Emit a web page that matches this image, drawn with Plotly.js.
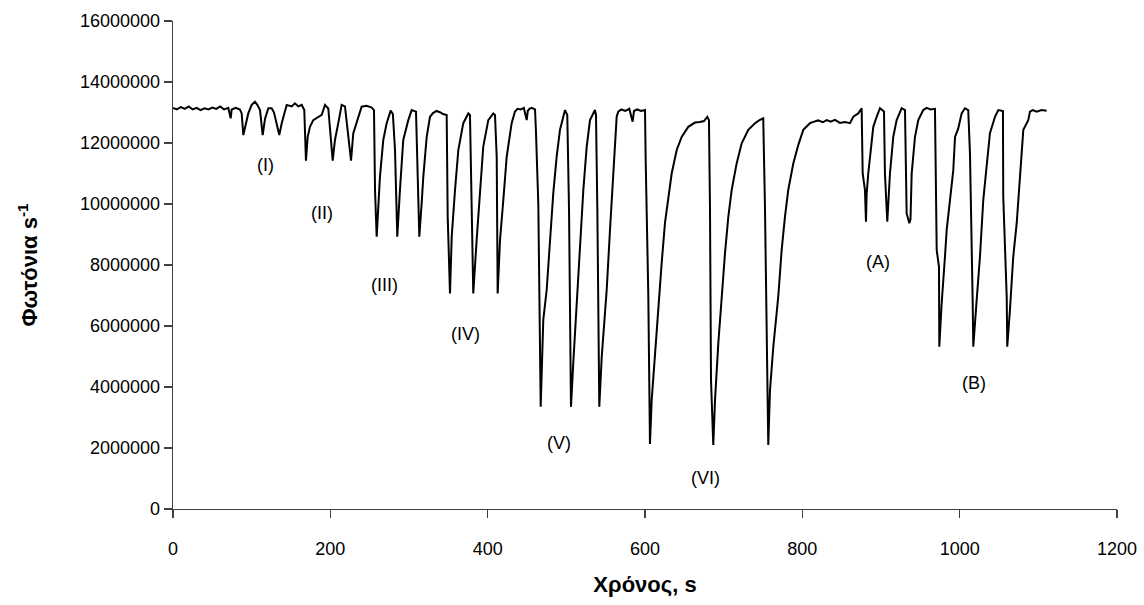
<!DOCTYPE html>
<html>
<head>
<meta charset="utf-8">
<script src="https://cdn.plot.ly/plotly-3.0.1.min.js"></script>
<style>html,body{margin:0;padding:0;background:#fff;}#chart{width:1144px;height:605px;}</style>
</head>
<body>
<div id="chart"></div>
<script>
const timeS = [0,5,10,15,20,25,30,35,40,45,50,55,60,65,70.3,73.3,74.6,80,85,87.3,89.4,92.8,95.7,100,104.2,107.2,110.6,114,117,121.2,125.4,128.4,135.1,138.2,142.4,144.5,150.9,155,159.3,163.6,166.9,169,171.2,174.1,178.3,189,193.2,197.4,203,205.9,210.1,214.4,218.6,222,226.3,229.2,235.6,239.8,246.2,252.6,255.5,256.8,258.9,261,263.1,267.3,271.6,276.7,279.5,282.2,285.1,288.5,292.7,299.1,303.4,308.9,310.6,313.1,316.1,318.2,322.5,326.7,330.5,335,340,343.2,347.9,349.2,352.1,354.3,358.5,362.7,369,375.4,377.5,379.7,381.7,386,390.2,394.4,400.8,407.1,409.3,411.5,412.7,415.7,419.9,424.2,430.5,434.7,438,442,446,449.6,451,453,456,460.2,461.4,464.4,467.4,468.7,470.7,475,479.2,483.4,487.7,491.9,498.3,501.2,503.4,505.9,508.8,513.2,517.4,521.6,525.9,530.1,536.4,537.7,539.4,541.9,545,551.3,555.5,559.7,564,566,570,575,580,584.3,586,590,595,600,600.9,604.2,606.3,608.5,612.7,616.9,621.2,625.4,629.6,633.9,640.3,646.6,655,663.5,669.9,675,679.2,681.3,682.6,683.9,686.8,689,693.2,697.5,701.7,705.9,710.2,716.5,722.9,731.3,739.8,745,750.3,752.5,754.7,756.7,758.9,763.1,769.4,773.7,777.9,782.1,788.5,794.8,801.2,809.7,815,820,826,831,836,841.5,847.8,854.2,860.6,864.8,871.1,875.4,876.7,879.6,880.9,881.8,883.8,888.1,890.2,894.5,898.7,903.8,905,908,911.4,915.6,919.9,926.3,930.5,932.6,936,937.5,939,943.2,947.4,953.7,958,963,968.6,970.8,973.7,974.1,977.1,981.3,983.5,987.7,991.9,994.1,998.2,1002.5,1006.7,1010.9,1013.1,1016.5,1017.3,1021.6,1025.8,1030,1034.3,1038.5,1044.9,1049.1,1055,1055.4,1059.8,1060.5,1063.9,1068.1,1072.5,1076.7,1078.8,1080.9,1087.2,1089.4,1093,1097.9,1104,1110.6];
const photons = [13150000,13100000,13180000,13120000,13200000,13100000,13150000,13080000,13140000,13100000,13160000,13120000,13200000,13100000,13150000,12810000,13100000,13150000,13100000,12970000,12260000,12650000,12970000,13250000,13350000,13250000,13080000,12260000,12800000,13140000,13140000,13000000,12260000,12650000,13080000,13250000,13200000,13300000,13200000,13250000,13080000,11420000,12200000,12530000,12750000,12920000,13250000,13130000,11420000,12100000,12650000,13250000,13200000,12430000,11420000,12320000,12860000,13190000,13220000,13160000,13080000,10460000,8930000,9910000,10900000,12100000,12650000,13060000,12950000,11770000,8930000,10460000,12100000,12750000,13080000,13030000,11550000,8930000,10030000,10900000,12200000,12860000,12980000,13050000,13000000,12950000,12920000,9580000,7070000,8930000,10460000,11770000,12650000,12970000,12920000,9150000,7070000,8820000,10460000,11880000,12750000,12970000,12920000,11550000,7070000,8820000,10130000,11550000,12650000,13030000,13120000,13100000,13150000,12750000,13050000,13120000,13150000,13100000,12370000,9970000,3350000,4670000,6200000,7180000,8930000,10350000,11550000,12430000,13080000,12920000,9860000,3350000,4780000,6740000,8600000,10460000,11880000,12750000,13080000,12920000,9860000,3350000,4990000,7180000,9150000,11000000,12860000,13030000,13100000,13050000,13120000,12700000,13050000,13100000,13050000,13080000,11390000,7020000,2130000,3570000,5110000,6750000,8070000,9380000,10240000,11000000,11770000,12200000,12530000,12670000,12690000,12720000,12860000,12750000,9910000,4230000,2100000,3570000,5440000,6960000,8390000,9580000,10460000,11330000,11990000,12430000,12650000,12740000,12810000,9910000,6100000,2100000,3900000,5320000,6960000,8490000,9580000,10460000,11330000,11930000,12430000,12650000,12700000,12740000,12680000,12750000,12700000,12760000,12660000,12690000,12650000,12860000,12970000,13140000,11000000,10460000,9420000,10350000,11000000,12200000,12530000,12860000,13140000,13030000,11000000,9420000,11000000,12200000,12750000,13140000,13080000,9690000,9370000,9500000,11000000,12200000,12750000,13080000,13150000,13100000,13120000,8490000,7940000,5320000,6740000,8270000,9150000,10130000,11110000,12200000,12480000,12970000,13140000,13080000,11660000,6850000,5320000,6850000,8270000,10130000,11330000,12320000,12860000,13080000,13050000,10240000,6960000,5320000,6520000,8270000,9370000,11000000,11880000,12430000,12750000,13030000,13080000,13030000,13080000,13060000];

const labelText = ['(I)','(II)','(III)','(IV)','(V)','(VI)','(A)','(B)'];
const labelX = [117,190,268.6,372,490.7,677.5,896.6,1018.6];
const labelY = [11280000,9690000,7340000,5740000,2150000,1020000,8110000,4140000];

const fontFam = '"Liberation Sans", Arial, sans-serif';

const trace = {
  x: timeS, y: photons, type: 'scatter', mode: 'lines',
  line: {color: '#000000', width: 2}, hoverinfo: 'skip', showlegend: false
};

const annotations = labelText.map((t, i) => ({
  x: labelX[i], y: labelY[i], xref: 'x', yref: 'y', text: t, showarrow: false,
  font: {family: fontFam, size: 18, color: '#000'}
}));

const layout = {
  width: 1144, height: 605,
  margin: {l: 173, r: 27, t: 21, b: 96},
  paper_bgcolor: '#fff', plot_bgcolor: '#fff',
  font: {family: fontFam, size: 18, color: '#000'},
  xaxis: {
    range: [0, 1200], tick0: 0, dtick: 200, tickmode: 'linear',
    showgrid: false, zeroline: false, showline: true, linecolor: '#404040', linewidth: 1.3,
    ticks: 'outside', ticklen: 8, tickwidth: 1.3, tickcolor: '#404040',
    ticklabelstandoff: 15,
    tickfont: {family: fontFam, size: 18, color: '#000'},
    title: {text: 'Χρόνος, s', font: {family: fontFam, size: 22, color: '#000', weight: 'bold'}, standoff: 18}
  },
  yaxis: {
    range: [0, 16000000], tick0: 0, dtick: 2000000, tickmode: 'linear', tickformat: 'd',
    showgrid: false, zeroline: false, showline: true, linecolor: '#404040', linewidth: 1.3,
    ticks: 'outside', ticklen: 8, tickwidth: 1.3, tickcolor: '#404040',
    tickfont: {family: fontFam, size: 18, color: '#000'},
    title: {text: 'Φωτόνια s<sup>-1</sup>', font: {family: fontFam, size: 22, color: '#000', weight: 'bold'}, standoff: 36}
  },
  annotations: annotations
};

Plotly.newPlot('chart', [trace], layout, {staticPlot: true, displayModeBar: false});
</script>
</body>
</html>
